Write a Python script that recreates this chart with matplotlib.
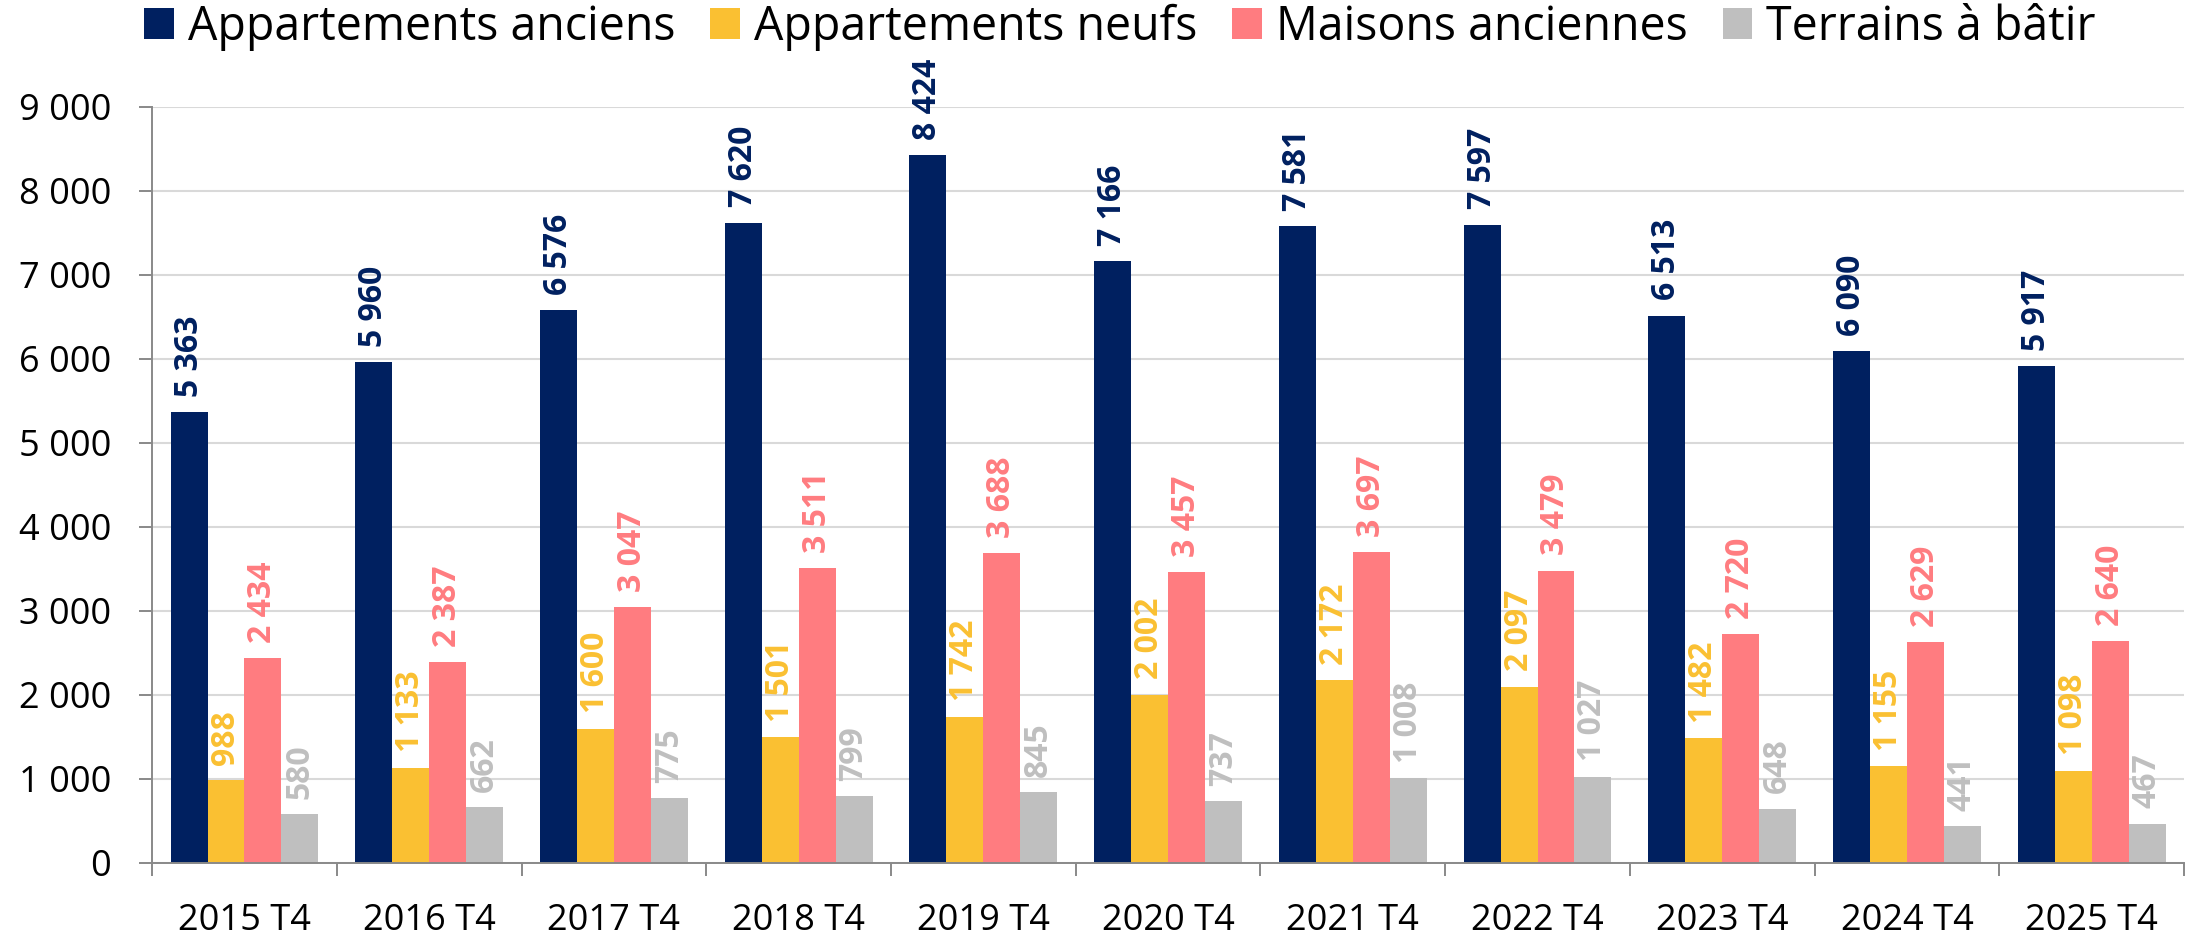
import numpy as np
import matplotlib
matplotlib.use("Agg")
import matplotlib.pyplot as plt
from matplotlib.ticker import FuncFormatter, FixedLocator

periods = ["2015 T4", "2016 T4", "2017 T4", "2018 T4", "2019 T4", "2020 T4",
           "2021 T4", "2022 T4", "2023 T4", "2024 T4", "2025 T4"]
series_names = ["Appartements anciens", "Appartements neufs",
                "Maisons anciennes", "Terrains à bâtir"]
appart_anciens = [5363, 5960, 6576, 7620, 8424, 7166, 7581, 7597, 6513, 6090, 5917]
appart_neufs = [988, 1133, 1600, 1501, 1742, 2002, 2172, 2097, 1482, 1155, 1098]
maisons_anciennes = [2434, 2387, 3047, 3511, 3688, 3457, 3697, 3479, 2720, 2629, 2640]
terrains = [580, 662, 775, 799, 845, 737, 1008, 1027, 648, 441, 467]
yticks = [0, 1000, 2000, 3000, 4000, 5000, 6000, 7000, 8000, 9000]

colors = ["#002060", "#FAC032", "#FF7C80", "#BFBFBF"]
font = ["Open Sans", "DejaVu Sans"]


def fmt(v):
    return f"{int(v):,}".replace(",", " ")


fig = plt.figure(figsize=(22.01, 9.38), dpi=100)
ax = fig.add_axes([0.0691, 0.080, 0.9232, 0.8062])

x = np.arange(len(periods))
w = 0.2
data = [appart_anciens, appart_neufs, maisons_anciennes, terrains]
handles = []
for i, (vals, col, name) in enumerate(zip(data, colors, series_names)):
    bars = ax.bar(x + (i - 1.5) * w, vals, w, color=col, label=name, zorder=2)
    handles.append(bars)
    for b, v in zip(bars, vals):
        ax.annotate(fmt(v), (b.get_x() + b.get_width() / 2, v),
                    xytext=(0, 11), textcoords="offset points",
                    rotation=90, ha="center", va="bottom",
                    color=col, fontsize=23, fontweight="bold", family=font)

ax.set_xlim(-0.5, len(periods) - 0.5)
ax.set_ylim(0, 9000)
ax.set_yticks(yticks)
ax.yaxis.set_major_formatter(FuncFormatter(lambda v, p: fmt(v)))
for lab in ax.get_yticklabels():
    lab.set_family(font)
    lab.set_fontsize(26)
ax.tick_params(axis="y", length=9.5, width=1.4, color="#898989", pad=20)

ax.set_xticks(x)
ax.set_xticklabels(periods, family=font, fontsize=26)
ax.xaxis.set_minor_locator(FixedLocator(np.arange(-0.5, len(periods), 1.0)))
ax.tick_params(axis="x", which="major", length=0, pad=29)
ax.tick_params(axis="x", which="minor", length=9.5, width=1.4, color="#898989")

ax.grid(axis="y", color="#D9D9D9", lw=1.5, zorder=0)
ax.set_axisbelow(True)
for s in ["top", "right"]:
    ax.spines[s].set_visible(False)
for s in ["left", "bottom"]:
    ax.spines[s].set_color("#898989")
    ax.spines[s].set_linewidth(1.4)

fig.legend(handles=handles, loc="center left", bbox_to_anchor=(144 / 2201, 1 - 27 / 938),
           ncol=4, frameon=False, prop={"family": font, "size": 33.5},
           handlelength=0.64, handleheight=0.64, handletextpad=0.3,
           columnspacing=0.75, borderaxespad=0, borderpad=0)

fig.savefig("out.png", dpi=100)
